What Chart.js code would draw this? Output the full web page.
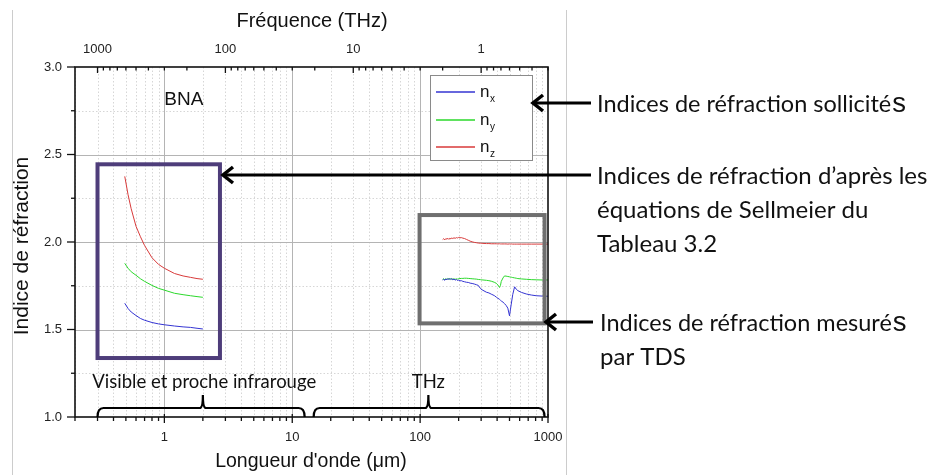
<!DOCTYPE html>
<html>
<head>
<meta charset="utf-8">
<script src="https://cdn.jsdelivr.net/npm/chart.js@4.4.1/dist/chart.umd.min.js"></script>
<style>
    html, body { margin: 0; padding: 0; background: #fff; overflow: hidden; }
    #wrap { width: 945px; height: 475px; position: relative; }
</style>
</head>
<body>
<div id="wrap"><canvas id="indexChart" width="945" height="475"></canvas></div>
<script>
// Series names / colours (n_x, n_y, n_z)
const seriesNames = ['x', 'y', 'z'];
const seriesColors = ['#3434d2', '#2bd82b', '#d83a3a'];

// Sellmeier curves, visible and near infrared (wavelength in um)
const visLambda = [0.49, 0.52, 0.55, 0.6, 0.65, 0.7, 0.8, 0.9, 1.0, 1.2, 1.4, 1.6, 1.8, 2.0];
const visNx = [1.650, 1.620, 1.600, 1.580, 1.563, 1.553, 1.540, 1.532, 1.527, 1.520, 1.515, 1.512, 1.507, 1.503];
const visNy = [1.878, 1.850, 1.830, 1.810, 1.790, 1.775, 1.752, 1.735, 1.725, 1.707, 1.699, 1.693, 1.688, 1.684];
const visNz = [2.375, 2.270, 2.190, 2.090, 2.030, 1.980, 1.910, 1.872, 1.850, 1.820, 1.806, 1.798, 1.791, 1.787];

// TDS measurements in the THz range (wavelength in um)
const thzLambda = [150, 153, 156, 159, 162, 165, 168, 171, 174, 177, 180, 184, 188, 192, 196, 200,
    205, 210, 216, 222, 230, 238, 246, 255, 265, 275, 285, 296, 300, 310, 330, 345, 360, 380, 394,
    405, 418, 425, 431, 445, 457, 470, 485, 500, 508, 516, 530, 548, 565, 581, 620, 676, 740, 809, 900, 1000];
const thzNx = [1.783, 1.787, 1.781, 1.789, 1.784, 1.791, 1.785, 1.792, 1.786, 1.790, 1.784, 1.788, 1.782, 1.786, 1.780, 1.782,
    1.778, 1.779, 1.775, 1.773, 1.770, 1.769, 1.765, 1.763, 1.760, 1.756, 1.752, 1.735, 1.730, 1.724, 1.713, 1.709, 1.702, 1.694, 1.685,
    1.679, 1.672, 1.667, 1.663, 1.656, 1.648, 1.638, 1.622, 1.578, 1.612, 1.645, 1.700, 1.744, 1.730, 1.722, 1.712, 1.703, 1.697, 1.693, 1.691, 1.690];
const thzNy = [1.786, 1.790, 1.784, 1.791, 1.785, 1.792, 1.787, 1.790, 1.786, 1.791, 1.788, 1.789, 1.787, 1.789, 1.788, 1.790,
    1.791, 1.792, 1.792, 1.793, 1.793, 1.792, 1.791, 1.790, 1.789, 1.788, 1.786, 1.785, 1.784, 1.783, 1.781, 1.779, 1.776, 1.770, 1.764,
    1.755, 1.740, 1.752, 1.775, 1.795, 1.806, 1.805, 1.803, 1.801, 1.800, 1.799, 1.797, 1.795, 1.793, 1.791, 1.789, 1.787, 1.785, 1.784, 1.783, 1.783];
const thzNz = [2.014, 2.019, 2.012, 2.020, 2.016, 2.021, 2.015, 2.022, 2.018, 2.023, 2.020, 2.024, 2.021, 2.025, 2.023, 2.026,
    2.024, 2.025, 2.022, 2.020, 2.015, 2.010, 2.005, 2.001, 1.998, 1.996, 1.994, 1.993, 1.993, 1.992, 1.991, 1.991, 1.990, 1.990, 1.990,
    1.989, 1.990, 1.989, 1.989, 1.989, 1.989, 1.989, 1.988, 1.989, 1.988, 1.989, 1.988, 1.988, 1.988, 1.988, 1.988, 1.988, 1.988, 1.988, 1.988, 1.988];

// Axis ticks
const yTicks = [1.0, 1.5, 2.0, 2.5, 3.0];
const lambdaTicks = [1, 10, 100, 1000];
const freqTicks = [1000, 100, 10, 1];

const ARIAL = '"Liberation Sans", Arial, sans-serif';
const CALIBRI = 'Lato, "Open Sans", sans-serif';

function makeSet(label, xs, ys, color) {
    return {
        label: label,
        data: xs.map((x, i) => ({ x: x, y: ys[i] })),
        borderColor: color,
        backgroundColor: color,
        borderWidth: 1,
        pointRadius: 0,
        showLine: true,
        tension: 0,
    };
}

// minor decade ticks between two limits
function minorTicks(lo, hi) {
    const out = [];
    for (let d = 0.1; d <= 1000; d *= 10) {
        for (let m = 1; m <= 9; m++) {
            const v = +(m * d).toPrecision(3);
            if (v >= lo && v <= hi) out.push(v);
        }
    }
    return out;
}

function seg(ctx, x0, y0, x1, y1) {
    ctx.beginPath();
    ctx.moveTo(x0, y0);
    ctx.lineTo(x1, y1);
    ctx.stroke();
}

// Grid under the curves, axis frame and ticks over them
const framePlugin = {
    id: 'frame',
    beforeDatasetsDraw(chart) {
        const { ctx, chartArea: a, scales } = chart;
        const x = scales.x, y = scales.y;
        ctx.save();
        ctx.lineWidth = 1;
        ctx.strokeStyle = '#d6d6d6';
        ctx.setLineDash([1.5, 2]);
        minorTicks(0.2, 1000).filter(v => !lambdaTicks.includes(v)).forEach(v => {
            const px = Math.round(x.getPixelForValue(v)) + 0.5;
            seg(ctx, px, a.top, px, a.bottom);
        });
        [1.25, 1.75, 2.25, 2.75].forEach(v => {
            const py = Math.round(y.getPixelForValue(v)) + 0.5;
            seg(ctx, a.left, py, a.right, py);
        });
        ctx.setLineDash([]);
        ctx.strokeStyle = '#b4b4b4';
        [1, 10, 100].forEach(v => {
            const px = Math.round(x.getPixelForValue(v)) + 0.5;
            seg(ctx, px, a.top, px, a.bottom);
        });
        [1.5, 2.0, 2.5].forEach(v => {
            const py = Math.round(y.getPixelForValue(v)) + 0.5;
            seg(ctx, a.left, py, a.right, py);
        });
        ctx.restore();
    },
    afterDatasetsDraw(chart) {
        const { ctx, chartArea: a, scales } = chart;
        const x = scales.x, y = scales.y, f = scales.f;
        ctx.save();
        ctx.strokeStyle = '#111';
        ctx.lineWidth = 1.6;
        ctx.strokeRect(a.left, a.top, a.right - a.left, a.bottom - a.top);

        ctx.lineWidth = 1.3;
        // bottom axis, wavelength
        minorTicks(0.2, 1000).forEach(v => {
            const px = x.getPixelForValue(v);
            const major = lambdaTicks.includes(v);
            seg(ctx, px, a.bottom - (major ? 3 : 0), px, a.bottom + (major ? 6 : 4));
        });
        // top axis, frequency
        minorTicks(0.3, 1500).forEach(v => {
            const px = f.getPixelForValue(v);
            const major = freqTicks.includes(v);
            seg(ctx, px, a.top, px, a.top + (major ? 6 : 3.5));
        });
        // left axis
        [1.0, 1.25, 1.5, 1.75, 2.0, 2.25, 2.5, 2.75, 3.0].forEach(v => {
            const py = y.getPixelForValue(v);
            const major = yTicks.includes(v);
            seg(ctx, a.left - (major ? 8 : 4), py, a.left, py);
        });
        ctx.restore();
    }
};

function arrow(ctx, xTip, yy, xTail) {
    ctx.save();
    ctx.strokeStyle = '#000';
    ctx.lineWidth = 3;
    ctx.lineJoin = 'miter';
    seg(ctx, xTip + 2, yy, xTail, yy);
    ctx.lineWidth = 3.5;
    ctx.beginPath();
    ctx.moveTo(xTip + 11, yy - 8);
    ctx.lineTo(xTip + 1, yy);
    ctx.lineTo(xTip + 11, yy + 8);
    ctx.stroke();
    ctx.restore();
}

// curly brace sitting on the bottom axis
function brace(ctx, x0, x1, xm, yBase, yLine, yPeak) {
    ctx.beginPath();
    ctx.moveTo(x0, yBase);
    ctx.quadraticCurveTo(x0, yLine, x0 + 6, yLine);
    ctx.lineTo(xm - 3, yLine);
    ctx.quadraticCurveTo(xm, yLine, xm, yPeak);
    ctx.quadraticCurveTo(xm, yLine, xm + 3, yLine);
    ctx.lineTo(x1 - 6, yLine);
    ctx.quadraticCurveTo(x1, yLine, x1, yBase);
    ctx.stroke();
}

function textWithS(ctx, txt, xx, yy, size) {
    ctx.font = size + 'px ' + CALIBRI;
    ctx.fillText(txt, xx, yy);
    const w = ctx.measureText(txt).width;
    ctx.font = (size + 4) + 'px ' + ARIAL;
    ctx.fillText('s', xx + w + 1, yy);
}

const annotationPlugin = {
    id: 'annotations',
    afterDraw(chart) {
        const { ctx, chartArea: a, scales } = chart;
        const x = scales.x, y = scales.y;
        ctx.save();

        // page frame lines
        ctx.strokeStyle = '#cccccc';
        ctx.lineWidth = 1;
        seg(ctx, 12.5, 10, 12.5, 475);
        seg(ctx, 566.5, 10, 566.5, 475);

        // boxes around calculated and measured curves
        ctx.lineWidth = 4;
        ctx.strokeStyle = '#4e3d7a';
        ctx.strokeRect(x.getPixelForValue(0.3), y.getPixelForValue(2.444),
            x.getPixelForValue(2.72) - x.getPixelForValue(0.3), y.getPixelForValue(1.337) - y.getPixelForValue(2.444));
        ctx.strokeStyle = '#6f6f6f';
        ctx.strokeRect(x.getPixelForValue(99), y.getPixelForValue(2.154),
            x.getPixelForValue(940) - x.getPixelForValue(99), y.getPixelForValue(1.535) - y.getPixelForValue(2.154));

        // legend
        const lx = a.right - 118, ly = a.top + 8;
        ctx.fillStyle = '#fff';
        ctx.fillRect(lx, ly, 102, 85);
        ctx.lineWidth = 1;
        ctx.strokeStyle = '#8a8a8a';
        ctx.strokeRect(lx + 0.5, ly + 0.5, 102, 85);
        seriesNames.forEach((name, i) => {
            const yy = Math.round(ly + 17 + i * 27.5);
            ctx.strokeStyle = seriesColors[i];
            ctx.lineWidth = 1.3;
            seg(ctx, lx + 6, yy, lx + 45, yy);
            ctx.fillStyle = '#111';
            ctx.textBaseline = 'alphabetic';
            ctx.textAlign = 'left';
            ctx.font = '17px ' + ARIAL;
            ctx.fillText('n', lx + 50, yy + 5);
            ctx.font = '10px ' + ARIAL;
            ctx.fillText(name, lx + 60, yy + 10);
        });

        // BNA
        ctx.fillStyle = '#111';
        ctx.font = '19px ' + ARIAL;
        ctx.textAlign = 'center';
        ctx.textBaseline = 'middle';
        ctx.fillText('BNA', x.getPixelForValue(1.42), y.getPixelForValue(2.81));

        // spectral range braces
        ctx.strokeStyle = '#000';
        ctx.lineWidth = 2.2;
        const yb = a.bottom, yl = a.bottom - 9, yp = a.bottom - 22;
        brace(ctx, x.getPixelForValue(0.3), x.getPixelForValue(12.5), x.getPixelForValue(2), yb, yl, yp);
        brace(ctx, x.getPixelForValue(14.7), x.getPixelForValue(940), x.getPixelForValue(116), yb, yl, yp);
        ctx.fillStyle = '#111';
        ctx.font = '18.5px ' + CALIBRI;
        ctx.textBaseline = 'alphabetic';
        ctx.fillText('Visible et proche infrarouge', x.getPixelForValue(2.05), a.bottom - 29);
        ctx.fillText('THz', x.getPixelForValue(116), a.bottom - 29);

        // axis titles
        ctx.textBaseline = 'middle';
        ctx.font = '20px ' + ARIAL;
        ctx.fillText('Fréquence (THz)', 312, 21);
        ctx.font = '19.5px ' + ARIAL;
        ctx.fillText('Longueur d\'onde (\u03bcm)', 311, 462);
        ctx.save();
        ctx.translate(22, 246);
        ctx.rotate(-Math.PI / 2);
        ctx.font = '21px ' + ARIAL;
        ctx.fillText('Indice de réfraction', 0, 0);
        ctx.restore();

        // arrows and side notes
        arrow(ctx, 532, 103, 591);
        arrow(ctx, 222, 175, 591);
        arrow(ctx, 545, 322, 593);
        ctx.fillStyle = '#111';
        ctx.textAlign = 'left';
        ctx.textBaseline = 'middle';
        textWithS(ctx, 'Indices de réfraction sollicité', 597, 104, 23.5);
        ctx.font = '24px ' + CALIBRI;
        ctx.fillText('Indices de réfraction d\u2019après les', 597, 176);
        ctx.fillText('équations de Sellmeier du', 597, 210);
        ctx.fillText('Tableau 3.2', 597, 244);
        textWithS(ctx, 'Indices de réfraction mesuré', 600, 323, 23.5);
        ctx.font = '24px ' + CALIBRI;
        ctx.fillText('par TDS', 600, 357);
        ctx.restore();
    }
};

const tickFont = { family: ARIAL, size: 13 };

new Chart(document.getElementById('indexChart'), {
    type: 'scatter',
    data: {
        datasets: [
            makeSet('n_x', visLambda, visNx, seriesColors[0]),
            makeSet('n_y', visLambda, visNy, seriesColors[1]),
            makeSet('n_z', visLambda, visNz, seriesColors[2]),
            makeSet('n_x TDS', thzLambda, thzNx, seriesColors[0]),
            makeSet('n_y TDS', thzLambda, thzNy, seriesColors[1]),
            makeSet('n_z TDS', thzLambda, thzNz, seriesColors[2]),
        ]
    },
    options: {
        responsive: false,
        animation: false,
        devicePixelRatio: 1,
        layout: { padding: { left: 0, top: 0, right: 397, bottom: 0 } },
        plugins: { legend: { display: false }, tooltip: { enabled: false } },
        scales: {
            x: {
                type: 'logarithmic', position: 'bottom', min: 0.2, max: 1000,
                grid: { drawOnChartArea: false, drawTicks: false, color: 'transparent' },
                border: { display: false },
                afterBuildTicks: s => { s.ticks = lambdaTicks.map(v => ({ value: v })); },
                ticks: { autoSkip: false, maxRotation: 0, padding: 13, color: '#222', font: tickFont, callback: v => String(v) },
                afterFit: s => { s.height = 58; },
            },
            f: {
                type: 'logarithmic', position: 'top', reverse: true, min: 0.3, max: 1500,
                grid: { drawOnChartArea: false, drawTicks: false, color: 'transparent' },
                border: { display: false },
                afterBuildTicks: s => { s.ticks = freqTicks.map(v => ({ value: v })); },
                ticks: { autoSkip: false, maxRotation: 0, padding: 10, color: '#222', font: tickFont, callback: v => String(v) },
                afterFit: s => { s.height = 67; },
            },
            y: {
                type: 'linear', min: 1, max: 3,
                grid: { drawOnChartArea: false, drawTicks: false, color: 'transparent' },
                border: { display: false },
                afterBuildTicks: s => { s.ticks = yTicks.map(v => ({ value: v })); },
                ticks: { padding: 13, color: '#222', font: tickFont, callback: v => v.toFixed(1) },
                afterFit: s => { s.width = 75; },
            }
        }
    },
    plugins: [framePlugin, annotationPlugin]
});
</script>
</body>
</html>
